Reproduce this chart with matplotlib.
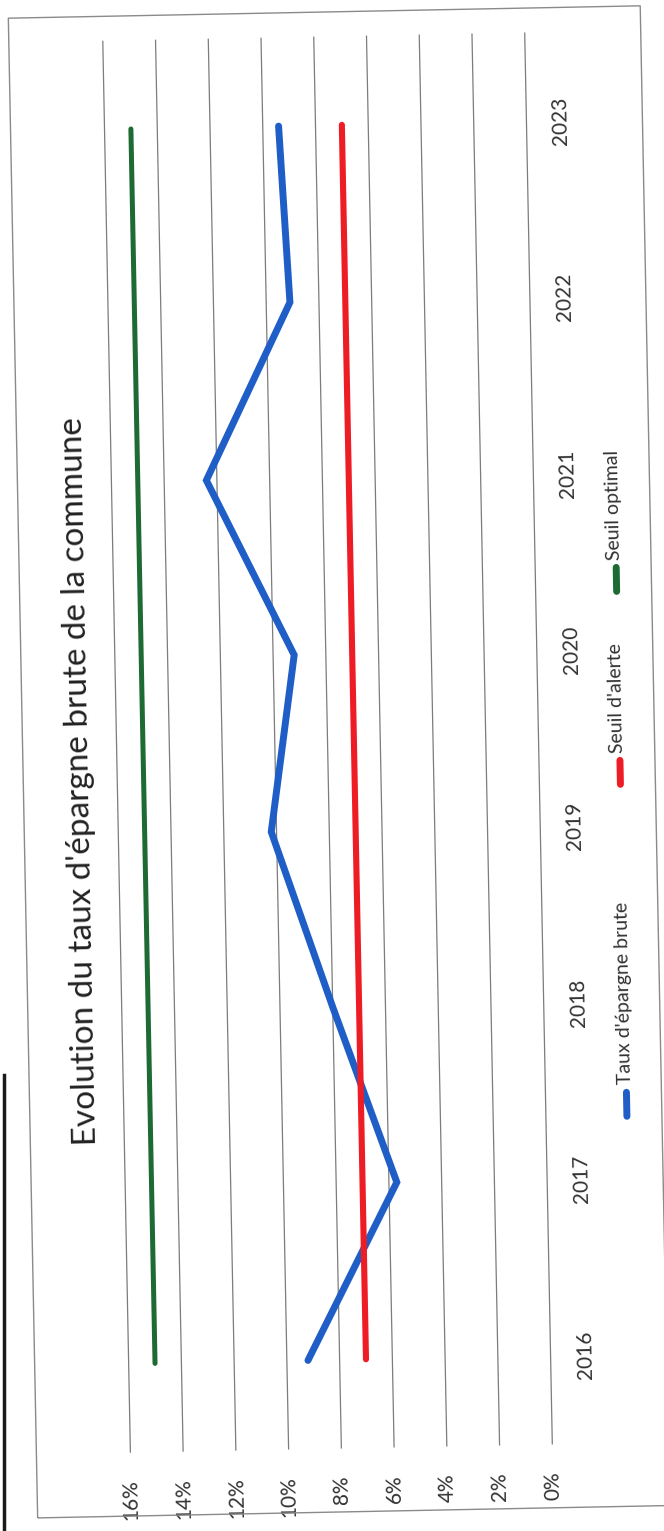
import matplotlib
matplotlib.use("Agg")
import matplotlib.pyplot as plt
import matplotlib.transforms as mtransforms
from matplotlib.lines import Line2D
from matplotlib.patches import Rectangle

# ---- data -------------------------------------------------------------
years = [2016, 2017, 2018, 2019, 2020, 2021, 2022, 2023]
taux_epargne = [9.2, 5.7, 8.0, 10.2, 9.2, 12.4, 9.1, 9.4]
seuil_alerte = [7, 7, 7, 7, 7, 7, 7, 7]
seuil_optimal = [15, 15, 15, 15, 15, 15, 15, 15]

value_ticks = [0, 2, 4, 6, 8, 10, 12, 14, 16]
value_labels = ["0%", "2%", "4%", "6%", "8%", "10%", "12%", "14%", "16%"]
year_labels = [str(y) for y in years]

title = "Evolution du taux d'épargne brute de la commune"
series_names = ["Taux d'épargne brute", "Seuil d'alerte", "Seuil optimal"]
series_colors = ["#1f5ec6", "#ee1c25", "#1d6a33"]
series_widths = [5.0, 4.4, 3.6]

# ---- figure -------------------------------------------------------------
W, H = 664, 1531
plt.rcParams["font.family"] = ["Lato", "DejaVu Sans"]
fig = plt.figure(figsize=(W / 100, H / 100), dpi=100)
fig.patch.set_facecolor("white")

# the printed chart sits slightly tilted on the page
TILT = 1.12
tilt = mtransforms.Affine2D().rotate_deg_around(W / 2, H / 2, TILT)
fig_t = fig.transFigure + tilt


def px(x, y):
    """pixel position (from top-left) -> figure fraction"""
    return x / W, 1 - y / H


# chart frame (tilted) and page edge (straight)
fig.add_artist(Rectangle(px(23, 1512), 632 / W, 1500 / H, transform=fig_t,
                         fill=False, edgecolor="#8a8a8a", lw=1.0))
fig.add_artist(Line2D([4 / W, 4 / W], [0, 1 - 1075 / H], transform=fig.transFigure,
                      color="#1a1a1a", lw=2.5))

# the chart is laid out sideways: values run right-to-left, years bottom-to-top
ax = fig.add_axes([117 / W, (H - 1448) / H, 422 / W, 1411 / H])
ax.set_xlim(16, 0)
ax.set_ylim(2015.5, 2023.5)
ax.axis("off")

for v in value_ticks:
    g = ax.axvline(v, color="#7c7c7c", lw=0.9, zorder=1, clip_on=False)
    g.set_transform(g.get_transform() + tilt)

series = [taux_epargne, seuil_alerte, seuil_optimal]
for vals, c, lw in zip(series, series_colors, series_widths):
    ln, = ax.plot(vals, years, color=c, lw=lw, solid_capstyle="round",
                  solid_joinstyle="miter", zorder=3, clip_on=False)
    ln.set_transform(ax.transData + tilt)

# value tick labels under the axis
x_lab_t = mtransforms.offset_copy(ax.get_xaxis_transform(), fig=fig, x=0, y=-27,
                                  units="dots") + tilt
for v, lab in zip(value_ticks, value_labels):
    ax.text(v, 0, lab, transform=x_lab_t, rotation=90 + TILT, ha="center",
            va="top", fontsize=15, color="#333333", clip_on=False)

# year tick labels right of the axis
y_lab_t = mtransforms.offset_copy(ax.get_yaxis_transform(), fig=fig, x=24, y=0,
                                  units="dots") + tilt
for yv, lab in zip(years, year_labels):
    ax.text(1, yv, lab, transform=y_lab_t, rotation=90 + TILT, ha="left",
            va="center", fontsize=15, color="#333333", clip_on=False)

# title
fig.text(*px(80, 776), title, transform=fig_t, rotation=90 + TILT, ha="center",
         va="center", fontsize=24, color="#222222")

# legend, drawn vertically along the right edge
legend_items = [(1122, 1090), (790, 759), (597, 566)]
for (y_handle, y_text), name, c in zip(legend_items, series_names, series_colors):
    x0, y0 = px(620, y_handle)
    x1, y1 = px(620, y_handle - 24)
    fig.add_artist(Line2D([x0, x1], [y0, y1], transform=fig_t,
                          color=c, lw=5, solid_capstyle="round"))
    fig.text(*px(617, y_text), name, transform=fig_t, rotation=90 + TILT,
             ha="center", va="bottom", fontsize=14, color="#333333")

fig.savefig("out.png", dpi=100, facecolor="white")
